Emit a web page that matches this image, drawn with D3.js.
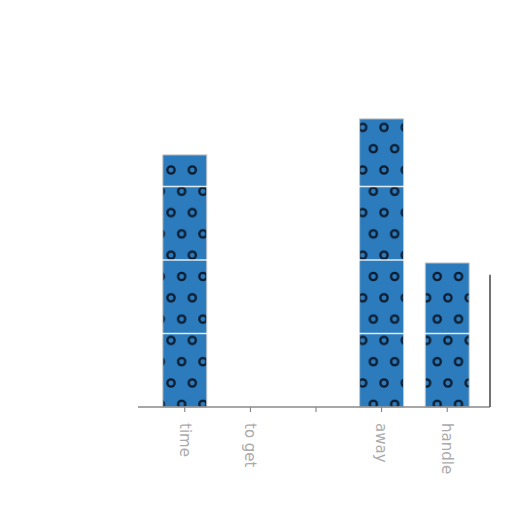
<html>
<meta charset='utf-8'>
<head>
    <script src="https://d3js.org/d3.v7.min.js"></script>
    <style>
      body { margin: 0; background: #fff; }
    </style>
</head>
<body>
<div id='viz'></div>
<script>
    // words and their counts
    let words = ['time', 'to get', '', 'away', 'handle'];
    let counts = [3.43, 0, 0, 3.92, 1.96];
    let gridTicks = [1, 2, 3, 4];

    let svg = d3.select('#viz').append('svg')
                .attr('width', 512)
                .attr('height', 512);

    let x = d3.scaleBand()
              .domain(words)
              .range([152, 480])
              .paddingInner(0.33)
              .paddingOuter(0.165);

    let y = d3.scaleLinear()
              .domain([0, 4])
              .range([407, 113]);

    // hollow circle hatch
    let defs = svg.append('defs');
    let pat = defs.append('pattern')
                  .attr('id', 'circles')
                  .attr('patternUnits', 'userSpaceOnUse')
                  .attr('width', 21.3)
                  .attr('height', 42.6)
                  .attr('x', 171)
                  .attr('y', 170);
    pat.append('rect').attr('width', 21.3).attr('height', 42.6).attr('fill', '#2b7bbd');
    [[0, 0], [21.3, 0], [0, 42.6], [21.3, 42.6], [10.65, 21.3]].forEach(p => {
        pat.append('circle')
           .attr('cx', p[0]).attr('cy', p[1]).attr('r', 3.6)
           .attr('fill', 'none')
           .attr('stroke', '#0b1a2c')
           .attr('stroke-width', 2.3);
    });

    svg.selectAll('.bar')
       .data(words)
       .join('rect')
       .attr('class', 'bar')
       .attr('x', d => x(d))
       .attr('width', x.bandwidth())
       .attr('y', (d, i) => y(counts[i]))
       .attr('height', (d, i) => y(0) - y(counts[i]))
       .attr('fill', 'url(#circles)')
       .attr('stroke', '#c8c8c8')
       .attr('stroke-width', 1);

    // grid lines sit over the bars, white so they only show on the blue
    svg.selectAll('.grid')
       .data(gridTicks)
       .join('line')
       .attr('class', 'grid')
       .attr('x1', 140).attr('x2', 488)
       .attr('y1', d => y(d)).attr('y2', d => y(d))
       .attr('stroke', '#ffffff')
       .attr('stroke-opacity', 0.85)
       .attr('stroke-width', 1.6);

    let axis = d3.axisBottom(x).tickSize(5).tickPadding(8).tickSizeOuter(0);
    let g = svg.append('g')
               .attr('transform', `translate(0,${y(0)})`)
               .call(axis);
    g.select('.domain').remove();
    g.selectAll('.tick line').attr('stroke', '#777');
    g.selectAll('.tick text')
     .attr('transform', 'rotate(90)')
     .attr('text-anchor', 'start')
     .attr('x', 16)
     .attr('y', 0)
     .attr('dy', '0.35em')
     .attr('font-family', 'DejaVu Sans')
     .attr('font-size', 15)
     .attr('fill', '#ababab');

    // baseline and the short right spine
    svg.append('line')
       .attr('x1', 138).attr('x2', 490)
       .attr('y1', y(0)).attr('y2', y(0))
       .attr('stroke', '#8a8a8a').attr('stroke-width', 1.5);
    svg.append('line')
       .attr('x1', 490).attr('x2', 490)
       .attr('y1', y(1.8)).attr('y2', y(0))
       .attr('stroke', '#444').attr('stroke-width', 1.5);
</script>
</body>
</html>
